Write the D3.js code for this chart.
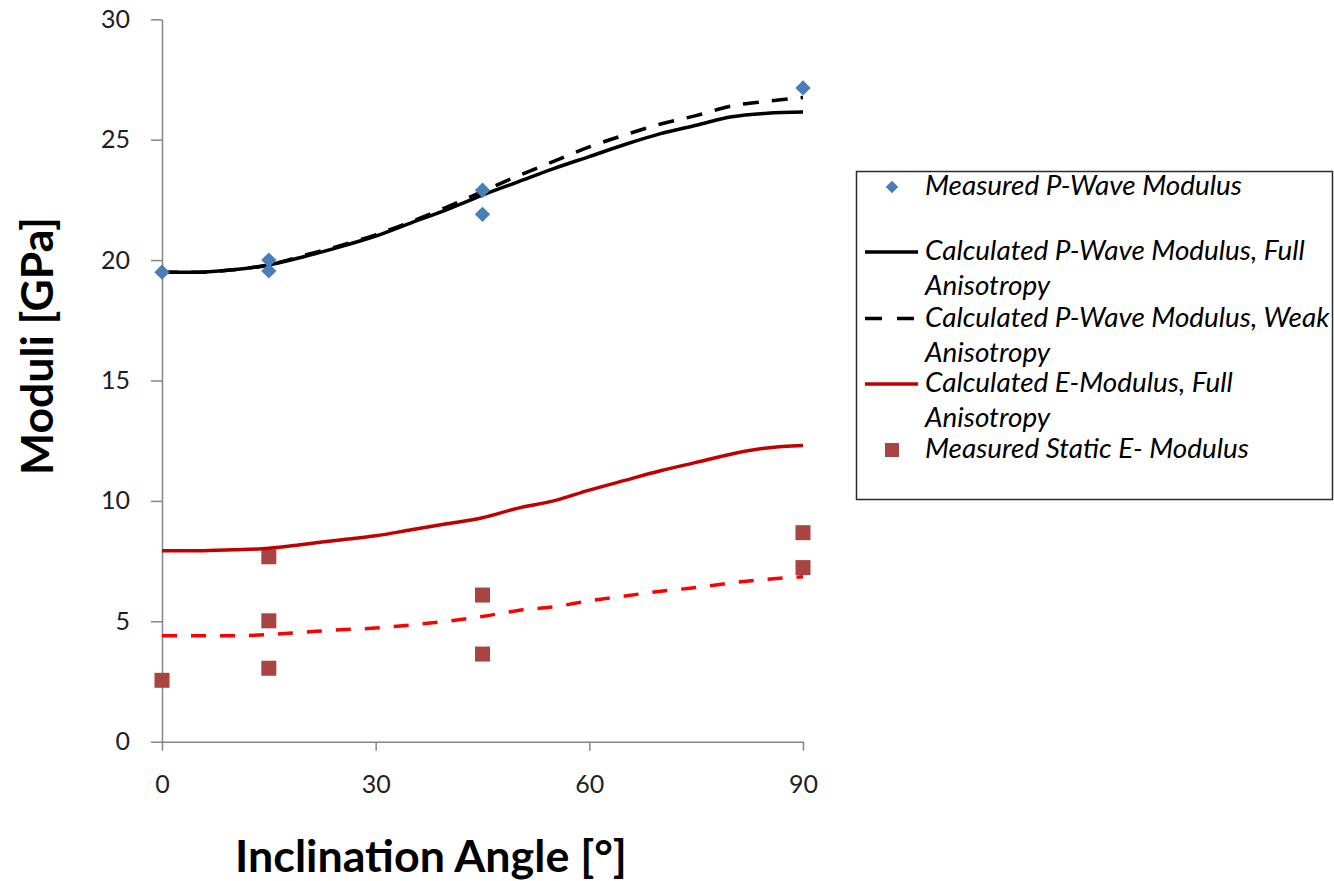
<!DOCTYPE html>
<html>
<head>
<meta charset="utf-8">
<script src="https://cdn.jsdelivr.net/npm/d3@7"></script>
<style>
  html, body { margin: 0; padding: 0; background: #fff; }
  svg { display: block; }
</style>
</head>
<body>
<svg id="chart" width="1334" height="881"></svg>
<script>
// Inclination angle of the calculated curves [°]
const angles = [0, 5, 10, 15, 20, 25, 30, 35, 40, 45, 50, 55, 60, 65, 70, 75, 80, 85, 90];
// Calculated P-wave modulus, full anisotropy [GPa]
const pWaveFull = [19.5, 19.5, 19.6, 19.8, 20.15, 20.55, 21.0, 21.55, 22.1, 22.7, 23.25, 23.8, 24.3, 24.8, 25.25, 25.6, 25.95, 26.1, 26.15];
// Calculated P-wave modulus, weak anisotropy [GPa]
const pWaveWeak = [19.5, 19.5, 19.6, 19.8, 20.2, 20.6, 21.05, 21.6, 22.2, 22.85, 23.5, 24.1, 24.7, 25.2, 25.65, 26.0, 26.4, 26.6, 26.75];
// Calculated E-modulus, full anisotropy [GPa]
const eModFull = [7.93, 7.93, 7.97, 8.03, 8.2, 8.38, 8.55, 8.8, 9.05, 9.3, 9.7, 10.0, 10.45, 10.85, 11.25, 11.6, 11.95, 12.2, 12.3];
// Calculated E-modulus fit (dashed red) [GPa]
const eModFit = [4.4, 4.4, 4.4, 4.45, 4.55, 4.65, 4.72, 4.85, 5.0, 5.2, 5.45, 5.6, 5.85, 6.05, 6.25, 6.4, 6.6, 6.75, 6.85];

// Measured P-wave modulus
const pMeasAngle = [0, 15, 15, 45, 45, 90];
const pMeasValue = [19.5, 20.0, 19.55, 22.9, 21.9, 27.15];
// Measured static E-modulus
const eMeasAngle = [0, 15, 15, 15, 45, 45, 90, 90];
const eMeasValue = [2.55, 7.68, 5.02, 3.05, 6.09, 3.64, 8.68, 7.23];

// Axis ticks and titles
const xTicks = [0, 30, 60, 90];
const yTicks = [0, 5, 10, 15, 20, 25, 30];
const xTitle = "Inclination Angle [°]";
const yTitle = "Moduli [GPa]";

// Legend entries (each entry may wrap onto two lines)
const legendLines = [
  ["Measured P-Wave Modulus"],
  ["Calculated P-Wave Modulus, Full", "Anisotropy"],
  ["Calculated P-Wave Modulus, Weak", "Anisotropy"],
  ["Calculated E-Modulus, Full", "Anisotropy"],
  ["Measured Static E- Modulus"]
];

const BLUE = "#4a7ebb";
const BROWN = "#a84541";
const DARKRED = "#c00000";
const RED = "#ff0000";
const AXIS = "#868686";
const FONT = "Lato, 'Open Sans', sans-serif";

const svg = d3.select("#chart");

const x = d3.scaleLinear().domain([0, 90]).range([162, 803]);
const y = d3.scaleLinear().domain([0, 30]).range([741.7, 19.3]);

// helper: pick a font size so a text reaches a given width
function fitSize(text, weight, style, target, start) {
  const t = svg.append("text")
    .attr("font-family", FONT).attr("font-weight", weight).attr("font-style", style)
    .attr("font-size", start).text(text);
  const w = t.node().getComputedTextLength();
  t.remove();
  return start * target / w;
}

// axes
const yAxis = svg.append("g")
  .attr("transform", `translate(${x(0)},0)`)
  .call(d3.axisLeft(y).tickValues(yTicks).tickSize(11).tickSizeOuter(0).tickPadding(21));
const xAxis = svg.append("g")
  .attr("transform", `translate(0,${y(0)})`)
  .call(d3.axisBottom(x).tickValues(xTicks).tickSize(9).tickSizeOuter(0).tickPadding(25));

[xAxis, yAxis].forEach(g => {
  g.select(".domain").attr("stroke", AXIS).attr("stroke-width", 1.5);
  g.selectAll(".tick line").attr("stroke", AXIS).attr("stroke-width", 1.5);
  g.selectAll(".tick text")
    .attr("font-family", FONT).attr("font-size", 25).attr("fill", "#1e1e2a");
});

// axis titles
const yTitleSize = fitSize(yTitle, "bold", "normal", 258, 40);
svg.append("text")
  .attr("transform", `translate(53,346) rotate(-90)`)
  .attr("text-anchor", "middle")
  .attr("font-family", FONT).attr("font-weight", "bold")
  .attr("font-size", yTitleSize).attr("fill", "#000")
  .text(yTitle);

const xTitleSize = fitSize(xTitle, "bold", "normal", 392, 40);
svg.append("text")
  .attr("x", 431).attr("y", 872)
  .attr("text-anchor", "middle")
  .attr("font-family", FONT).attr("font-weight", "bold")
  .attr("font-size", xTitleSize).attr("fill", "#000")
  .text(xTitle);

// curves
const line = d3.line().curve(d3.curveMonotoneX);
function curve(values) {
  return line(angles.map((a, i) => [x(a), y(values[i])]));
}

const diamond = d3.symbol().type(d3.symbolDiamond2).size(150);

// measured static E-modulus (squares)
svg.append("g").selectAll("rect")
  .data(eMeasAngle.map((a, i) => [a, eMeasValue[i]]))
  .join("rect")
  .attr("x", d => x(d[0]) - 7.5).attr("y", d => y(d[1]) - 7.5)
  .attr("width", 15).attr("height", 15)
  .attr("fill", BROWN);

svg.append("path").attr("d", curve(eModFit))
  .attr("fill", "none").attr("stroke", RED).attr("stroke-width", 3.5)
  .attr("stroke-dasharray", "15,14");
svg.append("path").attr("d", curve(eModFull))
  .attr("fill", "none").attr("stroke", DARKRED).attr("stroke-width", 3.5);
svg.append("path").attr("d", curve(pWaveWeak))
  .attr("fill", "none").attr("stroke", "#000").attr("stroke-width", 3.5)
  .attr("stroke-dasharray", "16,13");
svg.append("path").attr("d", curve(pWaveFull))
  .attr("fill", "none").attr("stroke", "#000").attr("stroke-width", 3.5);

// measured P-wave modulus (diamonds)
svg.append("g").selectAll("path")
  .data(pMeasAngle.map((a, i) => [a, pMeasValue[i]]))
  .join("path")
  .attr("transform", d => `translate(${x(d[0])},${y(d[1])})`)
  .attr("d", diamond)
  .attr("fill", BLUE);

// legend
const lg = svg.append("g");
lg.append("rect")
  .attr("x", 856.5).attr("y", 171.5)
  .attr("width", 476).attr("height", 328)
  .attr("fill", "#fff").attr("stroke", "#2b2b2b").attr("stroke-width", 1.5);

const legendSize = fitSize(legendLines[0][0], "normal", "italic", 317, 24);
// baseline of the first text line of each entry, and its symbol centre
const entryBase = [195, 260, 327, 392, 458];
const lineGap = 35;
const symY = [187, 252, 318.5, 384, 450];

legendLines.forEach((lines, i) => {
  lines.forEach((s, j) => {
    lg.append("text")
      .attr("x", 925).attr("y", entryBase[i] + j * lineGap)
      .attr("font-family", FONT).attr("font-style", "italic")
      .attr("font-size", legendSize).attr("fill", "#000")
      .text(s);
  });
});

lg.append("path").attr("transform", `translate(892,${symY[0]})`)
  .attr("d", d3.symbol().type(d3.symbolDiamond2).size(100)).attr("fill", BLUE);
lg.append("line").attr("x1", 865).attr("x2", 918).attr("y1", symY[1]).attr("y2", symY[1])
  .attr("stroke", "#000").attr("stroke-width", 3.5);
lg.append("line").attr("x1", 865).attr("x2", 918).attr("y1", symY[2]).attr("y2", symY[2])
  .attr("stroke", "#000").attr("stroke-width", 3.5).attr("stroke-dasharray", "17,15");
lg.append("line").attr("x1", 865).attr("x2", 918).attr("y1", symY[3]).attr("y2", symY[3])
  .attr("stroke", DARKRED).attr("stroke-width", 3.5);
lg.append("rect").attr("x", 885).attr("y", symY[4] - 7).attr("width", 14).attr("height", 14)
  .attr("fill", BROWN);
</script>
</body>
</html>
